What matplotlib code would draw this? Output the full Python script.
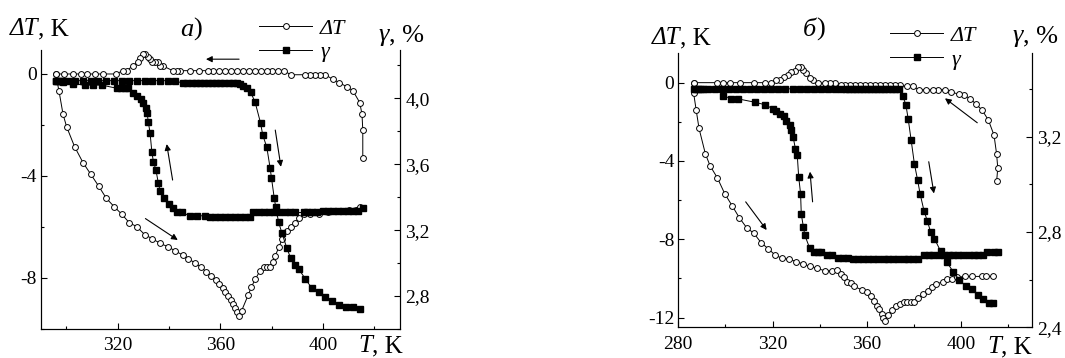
import matplotlib
matplotlib.use('Agg')
import matplotlib.pyplot as plt
from matplotlib.ticker import MultipleLocator, FuncFormatter

plt.rcParams['font.family'] = ['Liberation Serif', 'DejaVu Serif']
plt.rcParams['axes.unicode_minus'] = False

# ---------------- panel a) ----------------
# dT, heating branch (K vs K)
Ta_heat = [295.8, 297.1, 298.7, 300.1, 303.2, 306.5, 309.5, 312.6, 315.6, 318.6, 321.6, 324.5,
           327.5, 330.5, 333.5, 336.5, 339.5, 342.3, 345.3, 347.5, 350.2, 352.5, 354.4, 356.2,
           358.2, 359.6, 360.9, 362.0, 363.0, 364.0, 364.8, 365.8, 366.5, 367.2, 368.3, 370.8,
           372.1, 373.6, 375.5, 377.0, 378.3, 379.5, 380.4, 381.4, 382.8, 384.0, 385.9, 387.5,
           389.2, 390.5, 392.7, 395.0, 398.3, 402.0, 406.0, 410.0, 414.4]
dTa_heat = [0.0, -0.65, -1.58, -2.07, -2.85, -3.48, -3.93, -4.40, -4.88, -5.20, -5.50, -5.83,
            -5.99, -6.30, -6.46, -6.64, -6.77, -6.93, -7.10, -7.25, -7.41, -7.58, -7.75, -7.91,
            -8.08, -8.24, -8.40, -8.56, -8.71, -8.86, -9.02, -9.19, -9.32, -9.49, -9.28, -8.68,
            -8.35, -8.05, -7.71, -7.58, -7.56, -7.56, -7.36, -7.12, -6.80, -6.48, -6.14, -5.99,
            -5.83, -5.66, -5.49, -5.49, -5.49, -5.42, -5.38, -5.32, -5.20]
# dT, cooling branch
Ta_cool = [415.5, 415.5, 415.2, 414.3, 411.6, 409.2, 406.4, 403.8, 400.9, 398.8, 397.0, 395.0,
           392.9, 387.4, 384.8, 382.5, 380.2, 378.0, 375.7, 373.4, 371.1, 368.8, 366.5, 364.2,
           361.9, 359.6, 357.3, 355.3, 351.8, 348.2, 344.4, 343.0, 341.4, 337.8, 336.5, 335.8,
           334.5, 333.3, 332.6, 331.7, 330.6, 329.7, 328.7, 327.8, 325.8, 323.5, 322.2, 319.2,
           314.1, 311.1, 307.9, 305.8, 302.6, 299.2, 295.8]
dTa_cool = [-3.31, -2.21, -1.58, -1.12, -0.65, -0.50, -0.34, -0.21, -0.03, -0.03, -0.03, -0.03,
            -0.03, -0.03, 0.13, 0.13, 0.13, 0.13, 0.13, 0.13, 0.13, 0.13, 0.13, 0.13,
            0.13, 0.13, 0.13, 0.13, 0.13, 0.13, 0.13, 0.13, 0.13, 0.31, 0.31, 0.48,
            0.48, 0.48, 0.58, 0.65, 0.78, 0.78, 0.61, 0.48, 0.31, 0.13, 0.13, 0.0,
            0.0, 0.0, 0.0, 0.0, 0.0, 0.0, 0.0]
# gamma, heating branch (%)
Tga_heat = [295.8, 296.8, 297.8, 298.8, 300.5, 303.5, 306.5, 309.5, 312.5, 315.5, 318.5, 321.5,
            324.5, 327.5, 330.5, 333.5, 336.5, 339.5, 342.3, 345.6, 347.2, 348.8, 350.4, 352.0,
            353.6, 355.2, 356.8, 358.4, 360.0, 361.6, 363.2, 364.8, 366.4, 367.7, 369.0, 370.5,
            371.8, 373.5, 375.7, 376.5, 378.1, 379.4, 379.9, 381.0, 381.6, 382.7, 384.0, 385.9,
            387.4, 389.2, 390.5, 393.1, 395.6, 398.3, 400.9, 403.5, 406.1, 408.9, 411.8, 414.4]
ga_heat = [4.107, 4.107, 4.107, 4.107, 4.107, 4.107, 4.107, 4.107, 4.107, 4.107, 4.107, 4.107,
           4.107, 4.107, 4.107, 4.107, 4.107, 4.107, 4.107, 4.09, 4.09, 4.09, 4.09, 4.09,
           4.09, 4.09, 4.09, 4.09, 4.09, 4.09, 4.09, 4.09, 4.09, 4.087, 4.075, 4.061,
           4.036, 3.979, 3.848, 3.778, 3.703, 3.576, 3.519, 3.394, 3.339, 3.248, 3.182, 3.091,
           3.030, 2.990, 2.964, 2.905, 2.848, 2.822, 2.794, 2.767, 2.747, 2.733, 2.733, 2.721]
# gamma, cooling branch
Tga_cool = [415.5, 413.8, 411.8, 409.8, 407.8, 405.8, 403.8, 401.8, 400.1, 397.6, 395.6, 393.9,
            392.4, 389.1, 387.0, 385.0, 383.0, 381.0, 378.9, 376.9, 374.9, 372.9, 371.6, 369.6,
            367.6, 365.7, 363.7, 361.7, 359.8, 357.8, 356.0, 354.0, 350.8, 348.2, 344.9, 343.2,
            341.7, 340.1, 338.1, 336.5, 335.8, 334.9, 333.9, 333.3, 332.6, 331.9, 331.5, 331.0,
            330.0, 329.0, 327.6, 326.1, 324.1, 322.9, 321.3, 319.6, 313.8, 310.5, 307.3, 302.7,
            298.5, 296.0]
ga_cool = [3.333, 3.319, 3.319, 3.319, 3.319, 3.319, 3.319, 3.319, 3.319, 3.307, 3.307, 3.307,
           3.307, 3.307, 3.307, 3.307, 3.307, 3.307, 3.307, 3.307, 3.307, 3.307, 3.282, 3.282,
           3.282, 3.282, 3.282, 3.282, 3.282, 3.282, 3.282, 3.287, 3.287, 3.287, 3.307, 3.313,
           3.333, 3.359, 3.394, 3.440, 3.488, 3.565, 3.616, 3.676, 3.792, 3.858, 3.909, 3.939,
           3.970, 3.994, 4.014, 4.030, 4.061, 4.061, 4.061, 4.061, 4.080, 4.080, 4.080, 4.087,
           4.10, 4.107]

# ---------------- panel b) ----------------
Tb_heat = [286.5, 286.5, 287.6, 288.8, 291.5, 293.5, 296.6, 299.7, 302.8, 305.9, 309.0, 312.1,
           315.1, 318.1, 321.2, 324.0, 326.9, 330.1, 333.0, 335.9, 339.0, 342.1, 345.2, 347.5,
           348.9, 350.3, 351.7, 353.4, 354.6, 357.8, 360.0, 361.7, 363.1, 364.2, 365.3, 366.3,
           367.0, 367.7, 369.1, 370.6, 372.4, 374.1, 375.8, 377.2, 378.6, 380.0, 381.9, 384.0,
           385.9, 387.6, 389.4, 392.5, 394.2, 396.1, 398.2, 401.7, 404.5, 408.8, 410.6, 413.7]
dTb_heat = [0.0, -0.53, -1.41, -2.34, -3.64, -4.25, -4.87, -5.67, -6.28, -6.90, -7.41, -7.70,
            -8.17, -8.48, -8.82, -8.97, -9.02, -9.14, -9.27, -9.39, -9.49, -9.61, -9.61, -9.58,
            -9.78, -9.95, -10.20, -10.24, -10.41, -10.58, -10.71, -10.91, -11.14, -11.39, -11.59, -11.81,
            -12.03, -12.20, -11.86, -11.64, -11.42, -11.30, -11.19, -11.19, -11.19, -11.19, -11.02, -10.80,
            -10.63, -10.46, -10.29, -10.17, -10.04, -10.04, -9.95, -9.90, -9.90, -9.90, -9.90, -9.90]
Tb_cool = [415.1, 415.6, 415.1, 414.0, 411.6, 409.0, 406.4, 403.8, 401.4, 399.3, 395.6, 393.2,
           390.4, 388.0, 385.1, 382.3, 379.5, 377.0, 374.0, 371.9, 369.8, 367.7, 365.6, 363.5,
           361.4, 359.3, 357.2, 355.1, 352.8, 350.6, 348.9, 346.4, 344.3, 342.1, 339.3, 337.2,
           335.8, 334.3, 332.9, 332.0, 330.8, 329.4, 328.0, 326.6, 324.9, 323.0, 321.6, 319.5,
           316.7, 312.1, 306.1, 301.8, 299.0, 296.6, 286.5]
dTb_cool = [-5.05, -4.37, -3.64, -2.68, -1.91, -1.41, -1.10, -0.81, -0.65, -0.59, -0.48, -0.36,
            -0.36, -0.36, -0.36, -0.36, -0.19, -0.19, -0.14, -0.14, -0.14, -0.14, -0.14, -0.14,
            -0.14, -0.14, -0.14, -0.14, -0.14, -0.14, -0.14, -0.02, -0.02, -0.02, -0.02, 0.12,
            0.25, 0.49, 0.66, 0.79, 0.79, 0.62, 0.54, 0.37, 0.28, 0.15, 0.12, 0.0,
            0.0, 0.0, 0.0, 0.0, 0.0, 0.0, 0.0]
Tgb_heat = [286.5, 287.5, 288.5, 289.5, 290.5, 292.5, 295.5, 298.5, 301.5, 304.5, 307.5, 310.5,
            313.5, 316.5, 319.5, 322.5, 325.5, 328.5, 331.5, 334.5, 337.5, 340.5, 343.5, 346.5,
            349.0, 351.0, 352.5, 354.0, 355.5, 357.0, 358.5, 360.0, 361.5, 363.0, 364.5, 366.0,
            367.5, 369.0, 370.5, 372.0, 373.5, 375.2, 376.6, 377.6, 378.8, 380.2, 381.6, 382.6,
            384.3, 385.7, 387.1, 388.7, 391.3, 393.9, 396.7, 399.3, 402.1, 404.7, 407.3, 409.5,
            412.0, 413.4]
gb_heat = [3.40, 3.40, 3.40, 3.40, 3.40, 3.40, 3.40, 3.40, 3.40, 3.40, 3.40, 3.40,
           3.40, 3.40, 3.40, 3.40, 3.40, 3.40, 3.40, 3.40, 3.40, 3.40, 3.40, 3.40,
           3.40, 3.40, 3.40, 3.40, 3.40, 3.40, 3.40, 3.40, 3.40, 3.40, 3.40, 3.40,
           3.40, 3.40, 3.40, 3.40, 3.40, 3.372, 3.333, 3.272, 3.187, 3.086, 3.016, 2.961,
           2.888, 2.846, 2.800, 2.772, 2.720, 2.674, 2.633, 2.598, 2.573, 2.559, 2.535, 2.517,
           2.503, 2.503]
Tgb_cool = [415.8, 414.0, 411.2, 409.5, 407.4, 405.3, 403.2, 401.0, 398.9, 396.8, 394.7, 392.6,
            390.5, 388.3, 386.2, 384.3, 381.9, 379.8, 377.7, 375.6, 373.4, 371.3, 369.2, 367.1,
            364.9, 362.8, 360.7, 358.6, 356.3, 354.3, 352.0, 349.9, 347.8, 345.2, 343.2, 340.7,
            339.3, 337.6, 335.8, 333.7, 333.1, 332.2, 331.9, 331.1, 330.5, 329.7, 328.7, 328.0,
            327.3, 325.8, 324.9, 323.0, 321.6, 320.2, 316.9, 312.4, 305.3, 302.5, 299.0]
gb_cool = [2.716, 2.716, 2.716, 2.703, 2.703, 2.703, 2.703, 2.703, 2.703, 2.703, 2.703, 2.703,
           2.703, 2.703, 2.703, 2.703, 2.686, 2.686, 2.686, 2.686, 2.686, 2.686, 2.686, 2.686,
           2.686, 2.686, 2.686, 2.686, 2.686, 2.686, 2.689, 2.689, 2.689, 2.703, 2.703, 2.716,
           2.716, 2.716, 2.731, 2.786, 2.821, 2.874, 2.961, 3.030, 3.121, 3.149, 3.200, 3.228,
           3.249, 3.267, 3.288, 3.295, 3.306, 3.316, 3.333, 3.344, 3.358, 3.358, 3.372]

W, H = 1065, 358
fig = plt.figure(figsize=(W / 100, H / 100), dpi=100)

circ = dict(color='k', lw=0.7, marker='o', ms=4.2, mfc='white', mec='k', mew=0.7)
sq = dict(color='k', lw=0.7, marker='s', ms=4.0, mfc='k', mec='k')


def comma(v, pos):
    return ('%.1f' % v).replace('.', ',')


def intfmt(v, pos):
    return '%d' % round(v)


def two_part(x, y, ital, rest, size):
    # italic part followed by upright part, positioned in figure pixels (baseline)
    t = fig.text(x / W, 1 - y / H, ital, fontsize=size, style='italic', va='baseline', ha='left')
    fig.axes[0].annotate(rest, xy=(1, 0), xycoords=t, fontsize=size, va='bottom', ha='left',
                         annotation_clip=False)
    return t


def panel(rect, T_h, d_h, T_c, d_c, Tg_h, g_h, Tg_c, g_c, xlim, ylim, ylim2,
          arrows, leg_anchor):
    ax = fig.add_axes(rect)
    ax.plot(T_c, d_c, **circ)
    l1, = ax.plot(T_h, d_h, **circ)
    ax.set_xlim(*xlim)
    ax.set_ylim(*ylim)
    ax.xaxis.set_major_locator(MultipleLocator(40))
    ax.xaxis.set_minor_locator(MultipleLocator(20))
    ax.yaxis.set_major_locator(MultipleLocator(4))
    ax.yaxis.set_minor_locator(MultipleLocator(2))
    ax.yaxis.set_major_formatter(FuncFormatter(intfmt))
    ax.xaxis.set_major_formatter(FuncFormatter(intfmt))
    ax.spines['top'].set_visible(False)
    ax.tick_params(which='both', direction='in', top=False, right=False, width=0.8,
                   labelsize=14)
    ax.tick_params(which='major', length=4)
    ax.tick_params(which='minor', length=2.5)
    ax.tick_params(axis='x', pad=6)
    ax.tick_params(axis='y', pad=3)
    for a in arrows:
        ax.annotate('', xy=a[1], xytext=a[0],
                    arrowprops=dict(arrowstyle='-|>', color='k', lw=0.8, mutation_scale=9,
                                    shrinkA=0, shrinkB=0))

    ax2 = ax.twinx()
    ax2.plot(Tg_c, g_c, **sq)
    l2, = ax2.plot(Tg_h, g_h, **sq)
    ax2.set_ylim(*ylim2)
    ax2.yaxis.set_major_locator(MultipleLocator(0.4))
    ax2.yaxis.set_minor_locator(MultipleLocator(0.2))
    ax2.yaxis.set_major_formatter(FuncFormatter(comma))
    ax2.spines['top'].set_visible(False)
    ax2.tick_params(which='both', direction='in', width=0.8, labelsize=14, pad=4)
    ax2.tick_params(which='major', length=4)
    ax2.tick_params(which='minor', length=2.5)
    for a_ in (ax, ax2):
        for s in a_.spines.values():
            s.set_linewidth(0.8)

    ax2.legend([l1, l2], ['ΔT', 'γ'], loc='center left', bbox_to_anchor=leg_anchor,
               frameon=False, handlelength=2.4, borderpad=0, borderaxespad=0,
               handletextpad=0.35, labelspacing=0.15, numpoints=1,
               prop={'family': 'Liberation Serif', 'style': 'italic', 'size': 16})
    return ax, ax2


# arrows: (tail, head) in (T, dT) coordinates
arrows_a = [((367.3, 0.58), (354.4, 0.58)),
            ((341.4, -4.16), (339.1, -2.75)),
            ((381.4, -2.2), (383.6, -3.64)),
            ((330.8, -5.67), (343.4, -6.51))]
arrows_b = [((406.9, -2.05), (393.2, -0.8)),
            ((386.3, -4.04), (388.5, -5.66)),
            ((337.0, -6.09), (335.9, -4.55)),
            ((308.6, -6.09), (317.5, -7.53))]

panel([40.7 / W, 29 / H, 359.3 / W, 279 / H],
      Ta_heat, dTa_heat, Ta_cool, dTa_cool, Tga_heat, ga_heat, Tga_cool, ga_cool,
      (290, 430), (-10, 0.94), (2.6, 4.293), arrows_a, (0.6076, 1.035))
panel([678.3 / W, 30.7 / H, 353.4 / W, 274 / H],
      Tb_heat, dTb_heat, Tb_cool, dTb_cool, Tgb_heat, gb_heat, Tgb_cool, gb_cool,
      (280, 430), (-12.5, 1.5), (2.4, 3.549), arrows_b, (0.599, 1.02))

# axis titles
two_part(10, 35, 'ΔT', ', K', 18)
two_part(180, 36, 'a', ')', 19)
two_part(379, 41, 'γ', ', %', 19)
two_part(358, 352, 'T', ', K', 18)

two_part(652, 44, 'ΔT', ', K', 18)
two_part(803, 36, 'б', ')', 19)
two_part(1013, 42, 'γ', ', %', 19)
two_part(987, 353, 'T', ', K', 18)

fig.savefig('out.png', dpi=100)
